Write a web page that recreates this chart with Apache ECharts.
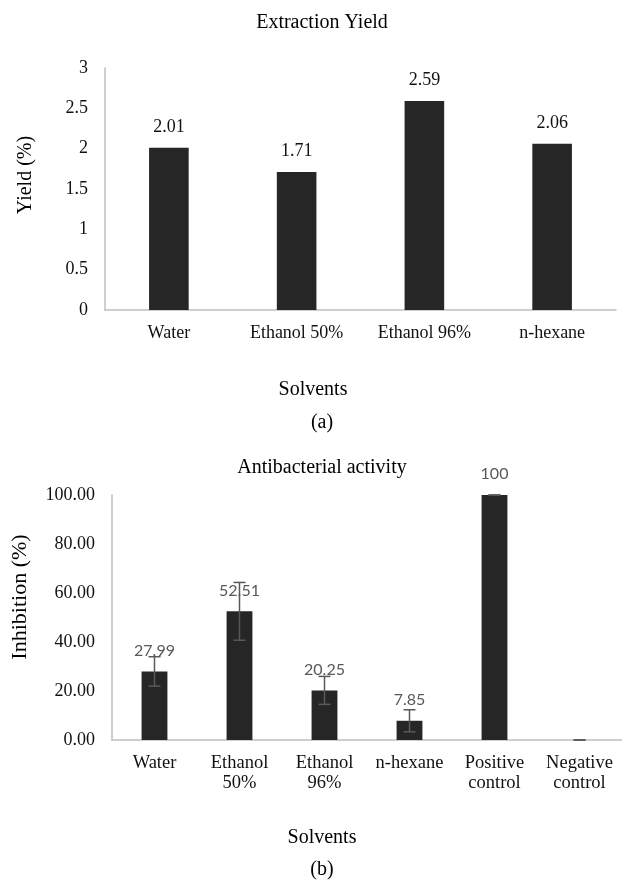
<!DOCTYPE html>
<html>
<head>
<meta charset="utf-8">
<script src="https://cdn.jsdelivr.net/npm/echarts@6/dist/echarts.min.js"></script>
<style>
html,body{margin:0;padding:0;background:#fff;}
#chart{width:622px;height:880px;}
</style>
</head>
<body>
<div id="chart"></div>
<script>
// ---- Data: chart (a) Extraction Yield ----
const yieldCategories = ['Water', 'Ethanol 50%', 'Ethanol 96%', 'n-hexane'];
const yieldValues = [2.01, 1.71, 2.59, 2.06];
const yieldTicks = { min: 0, max: 3, interval: 0.5 };

// ---- Data: chart (b) Antibacterial activity ----
const abCategories = ['Water', 'Ethanol\n50%', 'Ethanol\n96%', 'n-hexane', 'Positive\ncontrol', 'Negative\ncontrol'];
const abValues = [27.99, 52.51, 20.25, 7.85, 100, 0];
const abErrors = [6.0, 11.8, 5.7, 4.5, 0, 0];
const abTicks = { min: 0, max: 100, interval: 20 };

// ---- Texts ----
const titleA = 'Extraction Yield';
const titleB = 'Antibacterial activity';
const yNameA = 'Yield (%)';
const yNameB = 'Inhibition (%)';
const xNameA = 'Solvents';
const xNameB = 'Solvents';
const panelA = '(a)';
const panelB = '(b)';

const SERIF = '"Liberation Serif", "DejaVu Serif", serif';
const SANS = 'Lato, "Open Sans", sans-serif';
const BAR = '#262626';
const AXIS = '#bfbfbf';

const chart = echarts.init(document.getElementById('chart'), null, { renderer: 'canvas' });

function txt(x, y, text, size, rot) {
  return {
    type: 'text', x: x, y: y, rotation: rot || 0,
    style: { text: text, font: size + 'px ' + SERIF, fill: '#000', align: 'center', verticalAlign: 'middle' }
  };
}

const errData = abValues.map((v, i) => [i, v - abErrors[i], v + abErrors[i]]);

const option = {
  backgroundColor: '#fff',
  animation: false,
  grid: [
    { left: 105, top: 68, width: 511, height: 242, containLabel: false },
    { left: 112, top: 495, width: 514, height: 245, containLabel: false }
  ],
  xAxis: [
    {
      type: 'category', gridIndex: 0, data: yieldCategories,
      axisLine: { lineStyle: { color: AXIS, width: 1.5 } },
      axisTick: { show: false },
      axisLabel: { fontFamily: SERIF, fontSize: 18, color: '#111', margin: 13, lineHeight: 20, interval: 0 }
    },
    {
      type: 'category', gridIndex: 1, data: abCategories,
      axisLine: { lineStyle: { color: AXIS, width: 1.5 } },
      axisTick: { show: false },
      axisLabel: { fontFamily: SERIF, fontSize: 18.5, color: '#111', margin: 13, lineHeight: 20, interval: 0 }
    }
  ],
  yAxis: [
    {
      type: 'value', gridIndex: 0, min: yieldTicks.min, max: yieldTicks.max, interval: yieldTicks.interval,
      axisLine: { show: true, lineStyle: { color: AXIS, width: 1.5 } },
      axisTick: { show: false },
      splitLine: { show: false },
      axisLabel: { fontFamily: SERIF, fontSize: 18, color: '#111', margin: 17 }
    },
    {
      type: 'value', gridIndex: 1, min: abTicks.min, max: abTicks.max, interval: abTicks.interval,
      axisLine: { show: true, lineStyle: { color: AXIS, width: 1.5 } },
      axisTick: { show: false },
      splitLine: { show: false },
      axisLabel: { fontFamily: SERIF, fontSize: 18, color: '#111', margin: 17, formatter: v => v.toFixed(2) }
    }
  ],
  series: [
    {
      type: 'bar', xAxisIndex: 0, yAxisIndex: 0, data: yieldValues, barWidth: '31%',
      itemStyle: { color: BAR },
      label: { show: true, position: 'top', distance: 12, fontFamily: SERIF, fontSize: 18, color: '#111' },
      z: 2
    },
    {
      type: 'bar', xAxisIndex: 1, yAxisIndex: 1, data: abValues, barWidth: '30.4%',
      itemStyle: { color: BAR },
      label: {
        show: true, position: 'top', distance: 13, fontFamily: SANS, fontSize: 16, color: '#595959',
        formatter: p => (p.value === 0 ? '' : String(p.value))
      },
      z: 2
    },
    {
      type: 'custom', xAxisIndex: 1, yAxisIndex: 1, data: errData, z: 10,
      renderItem: function (params, api) {
        const x = api.value(0);
        const lo = api.coord([x, api.value(1)]);
        const hi = api.coord([x, api.value(2)]);
        const hw = 6;
        const st = { stroke: '#595959', lineWidth: 1.5 };
        return {
          type: 'group',
          children: [
            { type: 'line', shape: { x1: hi[0], y1: hi[1], x2: lo[0], y2: lo[1] }, style: st },
            { type: 'line', shape: { x1: hi[0] - hw, y1: hi[1], x2: hi[0] + hw, y2: hi[1] }, style: st },
            { type: 'line', shape: { x1: lo[0] - hw, y1: lo[1], x2: lo[0] + hw, y2: lo[1] }, style: st }
          ]
        };
      }
    }
  ],
  graphic: [
    txt(322, 23, titleA, 20),
    txt(26, 175, yNameA, 20, Math.PI / 2),
    txt(313, 390, xNameA, 20),
    txt(322, 423, panelA, 20),
    txt(322, 468, titleB, 20),
    txt(20, 597, yNameB, 22, Math.PI / 2),
    txt(322, 838, xNameB, 20),
    txt(322, 870, panelB, 20)
  ]
};

chart.setOption(option);
</script>
</body>
</html>
